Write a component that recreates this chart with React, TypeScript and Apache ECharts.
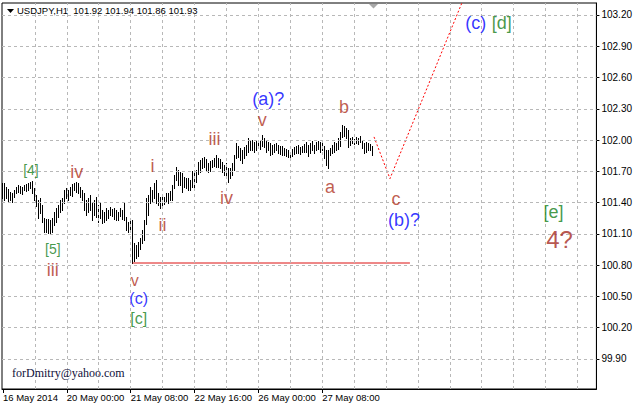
import React, { useEffect, useRef } from "react";
import * as echarts from "echarts";

// ---- data (USDJPY H1) ----
const highs = [
  101.59, 101.59, 101.55, 101.53, 101.50, 101.49, 101.52, 101.55, 101.57, 101.56,
  101.55, 101.57, 101.58, 101.59, 101.60, 101.61, 101.54, 101.47, 101.42, 101.44,
  101.38, 101.25, 101.24, 101.24, 101.23, 101.25, 101.31, 101.35, 101.38, 101.42,
  101.44, 101.52, 101.54, 101.52, 101.55, 101.58, 101.59, 101.60, 101.59, 101.55,
  101.52, 101.49, 101.42, 101.44, 101.47, 101.40, 101.42, 101.45, 101.38, 101.40,
  101.33, 101.31, 101.35, 101.33, 101.36, 101.34, 101.35, 101.33, 101.31, 101.35,
  101.33, 101.40, 101.26, 101.21, 101.23, 101.23, 101.01, 100.99, 101.02, 101.06,
  101.14, 101.23, 101.44, 101.47, 101.55, 101.52, 101.59, 101.62, 101.49, 101.45,
  101.46, 101.45, 101.49, 101.49, 101.51, 101.57, 101.66, 101.74, 101.71, 101.69,
  101.68, 101.65, 101.64, 101.64, 101.62, 101.70, 101.68, 101.71, 101.79, 101.81,
  101.83, 101.84, 101.82, 101.78, 101.80, 101.81, 101.83, 101.86, 101.83, 101.82,
  101.79, 101.76, 101.78, 101.73, 101.73, 101.78, 101.86, 101.97, 101.94, 101.92,
  101.90, 101.93, 101.95, 102.02, 102.00, 102.00, 101.98, 101.99, 102.00, 101.99,
  102.05, 102.02, 102.00, 101.98, 101.97, 101.95, 101.96, 101.97, 101.95, 101.94,
  101.94, 101.92, 101.91, 101.90, 101.89, 101.91, 101.93, 101.94, 101.95, 101.93,
  101.94, 101.96, 101.98, 101.95, 101.97, 101.99, 101.95, 101.98, 101.99, 101.98,
  101.97, 101.94, 101.90, 101.90, 101.92, 101.95, 101.98, 101.97, 102.02, 102.08,
  102.14, 102.13, 102.12, 102.10, 102.02, 102.03, 102.01, 102.03, 102.02, 102.04,
  102.00, 101.97, 101.98, 101.97, 101.96, 101.94,
];
const lows = [
  101.44, 101.42, 101.44, 101.41, 101.42, 101.41, 101.45, 101.49, 101.50, 101.49,
  101.48, 101.52, 101.51, 101.52, 101.54, 101.49, 101.42, 101.37, 101.25, 101.30,
  101.21, 101.12, 101.12, 101.11, 101.11, 101.12, 101.18, 101.21, 101.26, 101.31,
  101.33, 101.40, 101.44, 101.42, 101.47, 101.46, 101.52, 101.50, 101.49, 101.45,
  101.42, 101.33, 101.28, 101.31, 101.33, 101.23, 101.28, 101.26, 101.21, 101.25,
  101.20, 101.21, 101.23, 101.25, 101.28, 101.27, 101.24, 101.23, 101.23, 101.27,
  101.24, 101.23, 101.14, 101.12, 101.12, 100.82, 100.84, 100.87, 100.89, 100.95,
  101.01, 101.04, 101.19, 101.28, 101.40, 101.41, 101.44, 101.40, 101.38, 101.35,
  101.38, 101.39, 101.41, 101.40, 101.42, 101.42, 101.54, 101.62, 101.57, 101.57,
  101.50, 101.55, 101.54, 101.52, 101.52, 101.55, 101.54, 101.60, 101.67, 101.69,
  101.73, 101.74, 101.71, 101.69, 101.70, 101.74, 101.75, 101.74, 101.74, 101.73,
  101.69, 101.66, 101.65, 101.60, 101.64, 101.66, 101.71, 101.83, 101.84, 101.81,
  101.78, 101.83, 101.86, 101.89, 101.90, 101.90, 101.89, 101.90, 101.92, 101.91,
  101.94, 101.93, 101.89, 101.90, 101.86, 101.87, 101.89, 101.90, 101.88, 101.87,
  101.86, 101.86, 101.85, 101.84, 101.83, 101.85, 101.87, 101.88, 101.88, 101.87,
  101.89, 101.89, 101.89, 101.85, 101.88, 101.90, 101.88, 101.90, 101.91, 101.89,
  101.90, 101.83, 101.76, 101.73, 101.86, 101.88, 101.89, 101.90, 101.91, 101.94,
  102.03, 102.04, 102.02, 101.93, 101.95, 101.97, 101.96, 101.97, 101.96, 101.98,
  101.92, 101.88, 101.89, 101.90, 101.90, 101.86,
];

const slotCount = 298; // bars shown + empty space on the right
const dateTickIndex = [0, 32, 64, 96, 128, 160];
const dateTickText = ["16 May 2014", "20 May 00:00", "21 May 08:00", "22 May 16:00", "26 May 00:00", "27 May 08:00"];
const priceTicks = [99.9, 100.2, 100.5, 100.8, 101.1, 101.4, 101.7, 102.0, 102.3, 102.6, 102.9, 103.2];
const timeGridIndex = [16, 32, 48, 64, 80, 96, 112, 128, 144, 160, 176, 192, 208, 224, 240, 256, 272, 288];

const supportIndex = [65, 204];
const supportPrice = [100.82, 100.82];
const projectionIndex = [186, 194, 231];
const projectionPrice = [102.03, 101.63, 103.36];

const titleText = "USDJPY,H1  101.92 101.94 101.86 101.93";

const waveText = ["[4]", "iv", "[5]", "iii", "v", "(c)", "[c]", "i", "ii", "iii", "iv", "v", "(a)?", "a", "b", "c", "(b)?", "(c)", "[d]", "[e]", "4?"];
const waveIndex = [13.5, 37.3, 24.5, 24.5, 66, 67.5, 67.5, 75, 80, 106, 111.5, 130, 133, 163.5, 170.5, 196.5, 200.5, 237, 249.5, 275.5, 278.5];
const wavePrice = [101.71, 101.69, 100.95, 100.75, 100.65, 100.475, 100.29, 101.75, 101.18, 102.01, 101.44, 102.19, 102.39, 101.55, 102.32, 101.43, 101.23, 103.12, 103.12, 101.31, 101.05];
const waveDegree = ["minor", "sub", "minor", "sub", "subSmall", "minuteSmall", "minorMid", "sub", "sub", "sub", "sub", "sub", "minute", "sub", "sub", "sub", "minute", "minute", "minorBig", "minorBig", "primary"];

const degreeStyle: Record<string, { color: string; size: number }> = {
  sub: { color: "#b0341f", size: 18 },
  subSmall: { color: "#b0341f", size: 16 },
  minute: { color: "#0000ff", size: 18 },
  minuteSmall: { color: "#0000ff", size: 16 },
  minor: { color: "#15801a", size: 14 },
  minorMid: { color: "#15801a", size: 16 },
  minorBig: { color: "#15801a", size: 18 },
  primary: { color: "#a52a22", size: 24 },
};

export default function App() {
  const ref = useRef<HTMLDivElement>(null);
  useEffect(() => {
    document.body.style.margin = "0";
    const chart = echarts.init(ref.current!, null, { renderer: "svg" });
    const categories = Array.from({ length: slotCount }, (_, i) => String(i));
    const tickMap: Record<number, string> = {};
    dateTickIndex.forEach((i, j) => (tickMap[i] = dateTickText[j]));
    const sansFont = '"Liberation Sans", Arial, sans-serif';

    const bars = highs.map((h, i) => [i, lows[i], h]);

    const option: any = {
      animation: false,
      backgroundColor: "#ffffff",
      grid: {
        left: 2,
        top: 3,
        width: 596,
        height: 386,
        show: true,
        borderColor: "#000",
        borderWidth: 1,
        backgroundColor: "#fff",
      },
      xAxis: {
        type: "category",
        data: categories,
        boundaryGap: true,
        axisLine: { show: true, lineStyle: { color: "#000", width: 1 } },
        axisTick: {
          show: true,
          alignWithLabel: true,
          interval: (i: number) => tickMap[i] !== undefined,
          length: 4,
          lineStyle: { color: "#000" },
        },
        axisLabel: {
          show: true,
          interval: (i: number) => tickMap[i] !== undefined,
          formatter: (_v: string, i: number) => tickMap[i] ?? "",
          align: "left",
          margin: 3,
          fontSize: 9.5,
          color: "#000",
          fontFamily: sansFont,
        },
        splitLine: { show: false },
      },
      yAxis: {
        type: "value",
        position: "right",
        min: 99.611,
        max: 103.315,
        axisLine: { show: true, lineStyle: { color: "#000" } },
        axisTick: { show: true, customValues: priceTicks, length: 3, lineStyle: { color: "#000" } },
        axisLabel: {
          show: true,
          customValues: priceTicks,
          formatter: (v: number) => v.toFixed(2),
          margin: 5,
          fontSize: 10,
          color: "#000",
          fontFamily: sansFont,
        },
        splitLine: { show: false },
      },
      series: [
        {
          type: "line",
          data: [],
          z: 1,
          silent: true,
          markLine: {
            silent: true,
            symbol: ["none", "none"],
            label: { show: false },
            lineStyle: { color: "#b8b8b8", type: [3, 3], width: 1 },
            data: [
              ...timeGridIndex.map((i) => ({ xAxis: i })),
              ...priceTicks.map((p) => ({ yAxis: p })),
            ],
          },
        },
        {
          type: "custom",
          z: 3,
          data: bars,
          encode: { x: 0, y: [1, 2] },
          renderItem: (_params: any, api: any) => {
            const i = api.value(0);
            const lo = api.coord([i, api.value(1)]);
            const hi = api.coord([i, api.value(2)]);
            const x = Math.floor(lo[0]) + 0.5;
            return {
              type: "line",
              shape: { x1: x, y1: Math.round(hi[1]), x2: x, y2: Math.round(lo[1]) + 1 },
              style: { stroke: "#000", lineWidth: 1 },
            };
          },
        },
        {
          type: "line",
          z: 4,
          data: supportIndex.map((i, j) => [i, supportPrice[j]]),
          symbol: "none",
          lineStyle: { color: "#dd1111", width: 1 },
          silent: true,
        },
        {
          type: "line",
          z: 4,
          data: projectionIndex.map((i, j) => [i, projectionPrice[j]]),
          symbol: "none",
          clip: true,
          lineStyle: { color: "#ff0000", width: 1, type: [2, 2] },
          silent: true,
        },
        {
          type: "scatter",
          z: 5,
          symbolSize: 1,
          itemStyle: { color: "transparent" },
          silent: true,
          data: waveText.map((t, j) => ({
            name: t,
            value: [waveIndex[j], wavePrice[j]],
            label: {
              show: true,
              position: "inside",
              formatter: "{b}",
              color: degreeStyle[waveDegree[j]].color,
              fontSize: degreeStyle[waveDegree[j]].size,
              lineHeight: degreeStyle[waveDegree[j]].size,
              fontFamily: sansFont,
            },
          })),
        },
      ],
      graphic: [
        { type: "polygon", shape: { points: [[7, 9], [14, 9], [10.5, 13]] }, style: { fill: "#000" }, z: 10 },
        {
          type: "text",
          x: 17,
          y: 10.5,
          z: 10,
          style: { text: titleText, fill: "#000", fontSize: 9.5, fontFamily: sansFont, verticalAlign: "middle" },
        },
        { type: "polygon", shape: { points: [[369, 4], [378, 4], [373.5, 8.5]] }, style: { fill: "#a8a8a8" }, z: 10 },
        {
          type: "text",
          x: 12,
          y: 373,
          z: 10,
          style: {
            text: "forDmitry@yahoo.com",
            fill: "#10103a",
            fontSize: 12,
            fontFamily: '"Liberation Serif", "Times New Roman", serif',
            verticalAlign: "middle",
          },
        },
      ],
    };
    chart.setOption(option);
    return () => chart.dispose();
  }, []);
  return <div ref={ref} style={{ width: 635, height: 407 }} />;
}
